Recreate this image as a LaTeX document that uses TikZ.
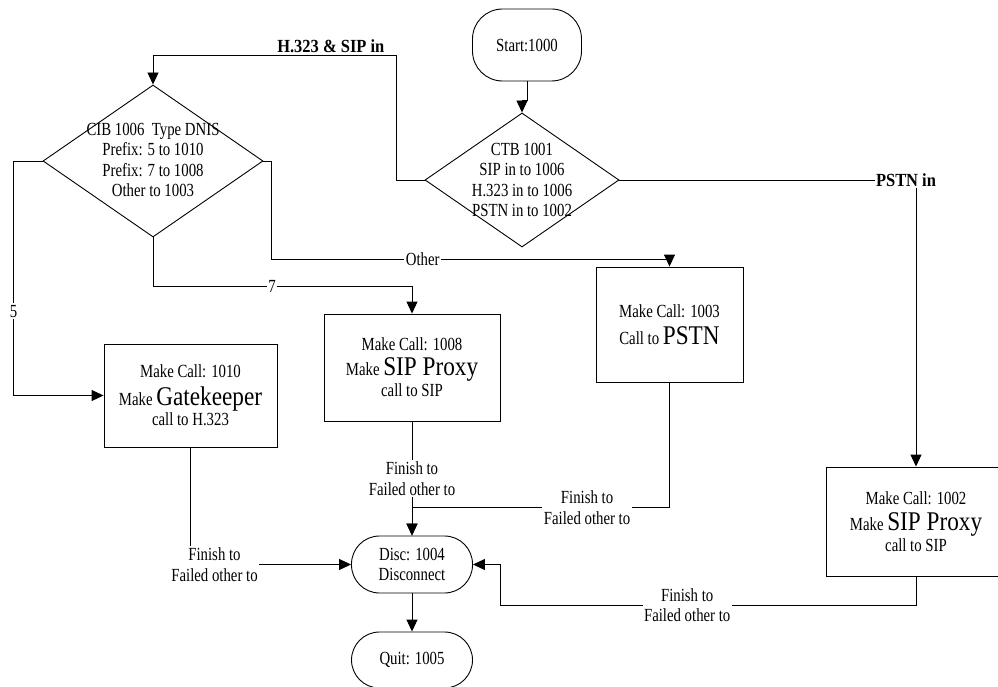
\documentclass[tikz,border=0pt]{standalone}
\usepackage{fontspec}
\setmainfont[FakeStretch=0.80]{Liberation Serif}
\newfontfamily\bigserif[FakeStretch=0.86]{Liberation Serif}
\newfontfamily\labelserif[FakeStretch=0.89]{Liberation Serif}
\usetikzlibrary{shapes.geometric,arrows.meta}

\newcommand{\bigword}[1]{{\bigserif\fontsize{27}{27}\selectfont #1}}

\begin{document}
\begin{tikzpicture}[x=1pt, y=-1pt, line width=0.9pt,
  >={Triangle[length=12pt,width=11pt]},
  every node/.style={font=\fontsize{18.5}{20.5}\selectfont, align=center},
  terminal/.style={draw, rectangle, rounded corners=28pt, minimum width=121pt, minimum height=57pt, inner sep=0pt},
  callbox/.style={draw, rectangle, inner sep=0pt},
  decision/.style={draw, diamond, inner sep=0pt},
  lbl/.style={fill=white, inner sep=1.5pt},
  inlbl/.style={fill=white, inner sep=1.5pt, font=\labelserif\bfseries\fontsize{18.5}{20.5}\selectfont}]

\useasboundingbox (0,0) rectangle (998,687);

% Start and the first branch (CTB)
\node[terminal, minimum width=109pt, minimum height=72pt, rounded corners=30pt] (start) at (527,45) {Start:1000};
\node[decision, minimum width=194pt, minimum height=134pt] (ctb) at (522,180) {};
\node (ctbtext) at (522,180) {CTB 1001\\SIP in to 1006\\H.323 in to 1006\\PSTN in to 1002};

% Second branch (CIB on the DNIS prefix)
\node[decision, minimum width=220pt, minimum height=152pt] (cib) at (153,161) {};
\node (cibtext) at (153,160) {CIB 1006\ \ Type DNIS\\Prefix: 5 to 1010\\Prefix: 7 to 1008\\Other to 1003};

% Make Call boxes
\node[callbox, minimum width=173pt, minimum height=103pt] (mc1010) at (190.5,395.5)
  {Make Call: 1010\\[7pt]Make \bigword{Gatekeeper}\\[0pt]call to H.323};
\node[callbox, minimum width=176pt, minimum height=107pt] (mc1008) at (412,367.5)
  {Make Call: 1008\\[4pt]Make \bigword{SIP Proxy}\\[1pt]call to SIP};
\node[callbox, minimum width=147pt, minimum height=115pt] (mc1003) at (669.5,324.5)
  {Make Call: 1003\\[6pt]Call to \bigword{PSTN}};
\node[callbox, minimum width=180pt, minimum height=109pt] (mc1002) at (916,521.5)
  {Make Call: 1002\\[6pt]Make \bigword{SIP Proxy}\\[0pt]call to SIP};

% Disconnect and quit
\node[terminal] (disc) at (412,564.5) {Disc: 1004\\Disconnect};
\node[terminal, minimum height=56pt] (quit) at (412,660) {Quit: 1005};

\coordinate (j2) at (500,605);

\begin{scope}[->]
% From start down to CTB
\draw (start.south) -- ++(0,19) -| (ctb.north);

% CTB outputs
\draw (ctb.west) -- ++(-28,0) -- ++(0,-125) -| node[inlbl, pos=0.135, yshift=9pt]{H.323 \& SIP in} (cib.north);
\draw (ctb.east) -| node[inlbl, pos=0.5, xshift=-10pt]{PSTN in} (mc1002.north);

% CIB outputs (5, 7, other)
\draw (cib.west) -- ++(-29,0) |- node[lbl, pos=0.32]{5} (mc1010.west);
\draw (cib.south) -- ++(0,49) -| node[lbl, pos=0.23]{7} (mc1008.north);
\draw (cib.east) -- ++(8,0) -- ++(0,98) -| node[lbl, pos=0.19]{Other} (mc1003.north);

% Finish / failed into disconnect
\draw (mc1010.south) |- node[lbl, pos=0.5, xshift=24pt]{Finish to\\Failed other to} (disc.west);
\draw (mc1008.south) -- node[lbl]{Finish to\\Failed other to} (disc.north);
\draw (mc1003.south) -- ++(0,125) -| node[lbl, pos=0.16]{Finish to\\Failed other to} (disc.north);
\draw (mc1002.south) |- node[lbl, pos=0.775]{Finish to\\Failed other to} (j2) |- (disc.east);

% Disconnect to quit
\draw (disc) -- (quit);
\end{scope}

\end{tikzpicture}
\end{document}
